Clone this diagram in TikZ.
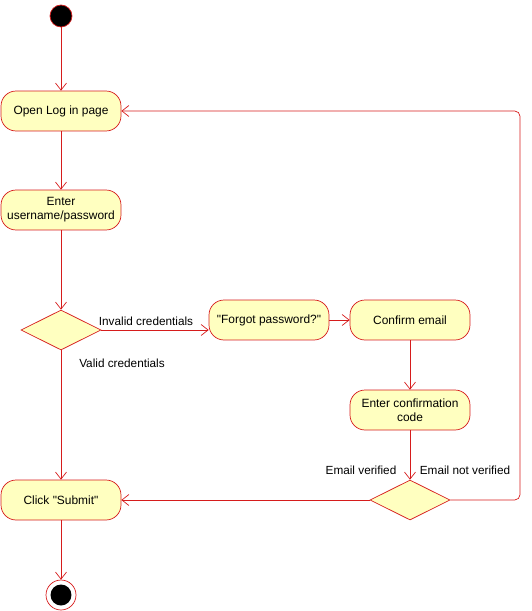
\documentclass[tikz,border=0pt]{standalone}
\usepackage{fontspec}
\setmainfont{Liberation Sans}
\usetikzlibrary{shapes.geometric,arrows.meta}
\definecolor{umlline}{RGB}{214,28,28}
\definecolor{umlfill}{RGB}{255,255,192}

\begin{document}
\begin{tikzpicture}[x=0.02cm, y=-0.02cm, umlline,
    actbox/.style={draw, fill=umlfill, rounded corners=0.3cm, minimum width=2.4cm,
        minimum height=0.8cm, align=center, text=black, font=\fontsize{6.8}{8}\selectfont},
    decis/.style={draw, fill=umlfill, diamond, inner sep=0pt, minimum width=1.6cm,
        minimum height=0.8cm},
    flow/.style={-{Straight Barb[length=0.14cm,width=0.22cm]}},
    lbl/.style={text=black, font=\fontsize{6.7}{8}\selectfont}]
			\useasboundingbox (0,0) rectangle (531,611);
			% start and end
			\node[draw, fill=black, circle, minimum size=0.44cm, inner sep=0pt] (start) at (61,16) {};
			\node[draw, circle, minimum size=0.6cm, inner sep=0pt] (stop) at (61,595) {};
			\node[fill=black, circle, minimum size=0.42cm, inner sep=0pt] at (61,595) {};
			% actions
			\node[actbox] (open) at (61,111) {Open Log in page};
			\node[actbox] (enter) at (61,210) {Enter\\username/password};
			\node[decis] (dec1) at (61,330) {};
			\node[actbox] (forgot) at (269,320) {\textquotedbl Forgot password?\textquotedbl};
			\node[actbox] (confirm) at (410,320) {Confirm email};
			\node[actbox] (code) at (410,410) {Enter confirmation\\code};
			\node[decis] (dec2) at (410,500) {};
			\node[actbox] (submit) at (61,500) {Click \textquotedbl Submit\textquotedbl};
			\coordinate (loop) at (520,500);
			% flows
			\draw[flow] (start) -- (open);
			\draw[flow] (open) -- (enter);
			\draw[flow] (enter) -- (dec1);
			\draw[flow] (dec1) -- (submit);
			\draw[flow] (dec1.east) -- (dec1.east -| forgot.west);
			\draw[flow] (forgot) -- (confirm);
			\draw[flow] (confirm) -- (code);
			\draw[flow] (code) -- (dec2);
			\draw[flow] (dec2.west) -- (submit.east);
			\draw[flow, rounded corners=3pt] (dec2.east) -- (loop) |- (open.east);
			\draw[flow] (submit) -- (stop);
			% labels
			\node[lbl] at (146,321) {Invalid credentials};
			\node[lbl] at (122,363) {Valid credentials};
			\node[lbl] at (361,470) {Email verified};
			\node[lbl] at (465,470) {Email not verified};
		\end{tikzpicture}
\end{document}
